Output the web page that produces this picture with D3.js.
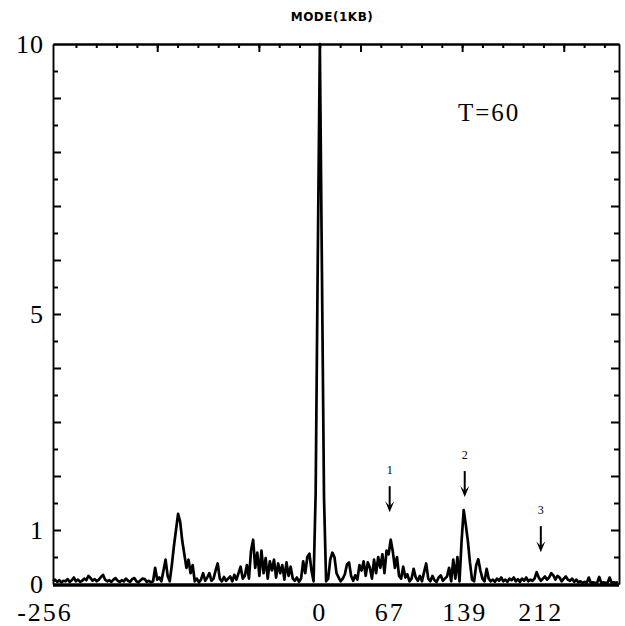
<!DOCTYPE html>
<html>
<head>
<meta charset="utf-8">
<script src="https://cdn.jsdelivr.net/npm/d3@7"></script>
<style>
body { margin: 0; background: #fff; }
svg { display: block; }
</style>
</head>
<body>
<svg id="chart" width="625" height="626"></svg>
<script>

// mode amplitude, sampled every 2 wavenumbers; each block starts at its own k
var kStep = 2;
var westTail = [ // k = -256 .. -160
	0.05, 0.08, 0.04, 0.07, 0.03, 0.06, 0.05, 0.09, 0.04, 0.07,
	0.12, 0.05, 0.08, 0.04, 0.06, 0.10, 0.07, 0.15, 0.11, 0.06,
	0.09, 0.05, 0.08, 0.13, 0.17, 0.08, 0.05, 0.07, 0.04, 0.08,
	0.11, 0.06, 0.04, 0.07, 0.05, 0.10, 0.06, 0.04, 0.09, 0.11,
	0.05, 0.03, 0.07, 0.10, 0.09, 0.04, 0.06, 0.03, 0.05];
var westPeak = [ // k = -158 .. -110
	0.30, 0.08, 0.12, 0.05, 0.25, 0.45, 0.15, 0.05, 0.35, 0.70,
	1.00, 1.30, 1.15, 0.80, 0.55, 0.30, 0.45, 0.20, 0.35, 0.05,
	0.10, 0.03, 0.08, 0.20, 0.06];
var westGap = [ // k = -108 .. -72
	0.12, 0.20, 0.06, 0.10, 0.25, 0.38, 0.10, 0.05, 0.13, 0.06,
	0.10, 0.14, 0.05, 0.17, 0.08, 0.20, 0.32, 0.10, 0.15];
var westCluster = [ // k = -70 .. -26
	0.35, 0.10, 0.62, 0.82, 0.30, 0.58, 0.15, 0.62, 0.20, 0.48,
	0.10, 0.42, 0.25, 0.45, 0.12, 0.38, 0.20, 0.35, 0.08, 0.40,
	0.15, 0.32, 0.10];
var centre = [ // k = -24 .. 6
	0.06, 0.12, 0.04, 0.10, 0.42, 0.20, 0.50, 0.56, 0.25, 0.05,
	1.70, 6.00, 10.0, 5.80, 1.60, 0.05];
var eastNear = [ // k = 8 .. 60
	0.10, 0.45, 0.58, 0.50, 0.20, 0.12, 0.05, 0.10, 0.18, 0.36,
	0.40, 0.15, 0.06, 0.16, 0.08, 0.35, 0.25, 0.42, 0.15, 0.40,
	0.30, 0.10, 0.45, 0.20, 0.50, 0.30, 0.55];
var mode1 = [ // k = 62 .. 76
	0.20, 0.62, 0.55, 0.82, 0.60, 0.30, 0.50, 0.15];
var eastGap = [ // k = 78 .. 124
	0.10, 0.32, 0.12, 0.18, 0.05, 0.10, 0.28, 0.12, 0.06, 0.15,
	0.05, 0.22, 0.38, 0.10, 0.05, 0.15, 0.07, 0.04, 0.12, 0.16,
	0.06, 0.10, 0.14, 0.30];
var mode2 = [ // k = 126 .. 164
	0.05, 0.45, 0.10, 0.50, 0.05, 0.80, 1.37, 1.10, 0.80, 0.40,
	0.08, 0.05, 0.35, 0.46, 0.25, 0.10, 0.05, 0.28, 0.10, 0.05];
var eastTail = [ // k = 166 .. 286
	0.08, 0.04, 0.10, 0.06, 0.12, 0.05, 0.08, 0.04, 0.10, 0.07,
	0.12, 0.05, 0.09, 0.04, 0.10, 0.06, 0.12, 0.05, 0.08, 0.06,
	0.10, 0.22, 0.12, 0.06, 0.10, 0.14, 0.08, 0.12, 0.20, 0.16,
	0.08, 0.15, 0.12, 0.05, 0.10, 0.14, 0.08, 0.06, 0.10, 0.04,
	0.08, 0.03, 0.05, 0.02, 0.04, 0.02, 0.12, 0.02, 0.03, 0.02,
	0.02, 0.13, 0.02, 0.03, 0.02, 0.02, 0.12, 0.02, 0.03, 0.02,
	0.04];

var blockStarts = [-256, -158, -108, -70, -24, 8, 62, 78, 126, 166];
var blocks = [westTail, westPeak, westGap, westCluster, centre, eastNear, mode1, eastGap, mode2, eastTail];

var xLabels = [-256, 0, 67, 139, 212];
var yLabels = [0, 1, 5, 10];

// arrows marking modes 1, 2, 3
var arrowK = [67, 139, 212];
var arrowTip = [1.33, 1.61, 0.59];
var arrowNames = ["1", "2", "3"];

var title = "MODE(1KB)";
var note = "T=60";

var margin = {top: 44, right: 6, bottom: 42, left: 53},
	width = 625 - margin.left - margin.right,
	height = 626 - margin.top - margin.bottom;

var serif = "'Liberation Serif', 'DejaVu Serif', serif";

var svg = d3.select("#chart");
var g = svg.append("g")
	.attr("transform", "translate(" + margin.left + "," + margin.top + ")");

var x = d3.scaleLinear().domain([-256, 287]).range([0, width]);
var y = d3.scaleLinear().domain([0, 10]).range([height, 0]);

// flatten blocks into {k, v}
var data = [];
blocks.forEach(function (vals, b) {
	vals.forEach(function (v, i) {
		data.push({k: blockStarts[b] + i * kStep, v: v});
	});
});

// ---- frame and ticks ----
var halfSteps = d3.range(0.5, 10, 1);
var wholeSteps = d3.range(1, 10, 1);

function styleAxis(sel, w) {
	sel.select(".domain").attr("stroke", "#000").attr("stroke-width", w);
	sel.selectAll(".tick line").attr("stroke", "#000").attr("stroke-width", 2);
	sel.selectAll(".tick text").remove();
}

g.append("g").call(d3.axisLeft(y).tickValues(halfSteps).tickSizeInner(-5).tickSizeOuter(0))
	.call(styleAxis, 1.5);
g.append("g").call(d3.axisLeft(y).tickValues(wholeSteps).tickSizeInner(-8).tickSizeOuter(0))
	.call(styleAxis, 1.5);
g.append("g").attr("transform", "translate(" + width + ",0)")
	.call(d3.axisRight(y).tickValues(halfSteps).tickSizeInner(-5).tickSizeOuter(0))
	.call(styleAxis, 1.5);
g.append("g").attr("transform", "translate(" + width + ",0)")
	.call(d3.axisRight(y).tickValues(wholeSteps).tickSizeInner(-8).tickSizeOuter(0))
	.call(styleAxis, 1.5);

// top axis: minor ticks every 19.5, long every fifth
var topTicks = d3.range(-234, 287, 19.5);
g.append("g")
	.call(d3.axisTop(x).tickValues(topTicks).tickSizeInner(-4).tickSizeOuter(0))
	.call(styleAxis, 2);
g.append("g")
	.call(d3.axisTop(x).tickValues(topTicks.filter(function (d, i) { return i % 5 === 4; }))
		.tickSizeInner(-8).tickSizeOuter(0))
	.call(styleAxis, 2);

g.append("line")
	.attr("x1", 0).attr("x2", width)
	.attr("y1", y(0) + 1).attr("y2", y(0) + 1)
	.attr("stroke", "#000").attr("stroke-width", 3.5);

// ---- spectrum ----
var line = d3.line()
	.x(function (d) { return x(d.k); })
	.y(function (d) { return y(d.v); });

g.append("path")
	.datum(data)
	.attr("d", line)
	.attr("fill", "none")
	.attr("stroke", "#000")
	.attr("stroke-width", 2.7)
	.attr("stroke-linejoin", "round");

// ---- mode arrows ----
arrowK.forEach(function (k, i) {
	var ax = x(k), tip = y(arrowTip[i]);
	g.append("line")
		.attr("x1", ax).attr("x2", ax)
		.attr("y1", tip - 26).attr("y2", tip - 6)
		.attr("stroke", "#000").attr("stroke-width", 2);
	g.append("path")
		.attr("d", "M" + (ax - 4.5) + "," + (tip - 11) + "L" + ax + "," + tip + "L" + (ax + 4.5) + "," + (tip - 11) + "L" + ax + "," + (tip - 6) + "Z")
		.attr("fill", "#000");
	g.append("text")
		.attr("x", ax).attr("y", tip - 38)
		.attr("text-anchor", "middle")
		.attr("fill", "#000")
		.style("font-family", serif)
		.style("font-size", "12px")
		.text(arrowNames[i]);
});

// ---- labels ----
svg.append("g").selectAll("text")
	.data(xLabels)
	.enter().append("text")
	.attr("x", function (d) { return margin.left + x(d) + (d < 0 ? -8 : 0); })
	.attr("y", 621)
	.attr("text-anchor", "middle")
	.style("font-family", serif)
	.style("font-size", "26px")
	.style("letter-spacing", "2px")
	.text(function (d) { return String(d); });

svg.append("g").selectAll("text")
	.data(yLabels)
	.enter().append("text")
	.attr("x", 44)
	.attr("y", function (d) { return margin.top + y(d); })
	.attr("dy", "0.35em")
	.attr("text-anchor", "end")
	.style("font-family", serif)
	.style("font-size", "26px")
	.style("letter-spacing", "1px")
	.text(function (d) { return String(d); });

svg.append("text")
	.attr("x", 332).attr("y", 21)
	.attr("text-anchor", "middle")
	.style("font-family", "'DejaVu Sans', sans-serif")
	.style("font-weight", "bold")
	.style("font-size", "12px")
	.style("letter-spacing", "0.5px")
	.text(title);

svg.append("text")
	.attr("x", 458).attr("y", 121)
	.style("font-family", serif)
	.style("font-size", "25px")
	.style("letter-spacing", "2px")
	.text(note);

</script>
</body>
</html>
